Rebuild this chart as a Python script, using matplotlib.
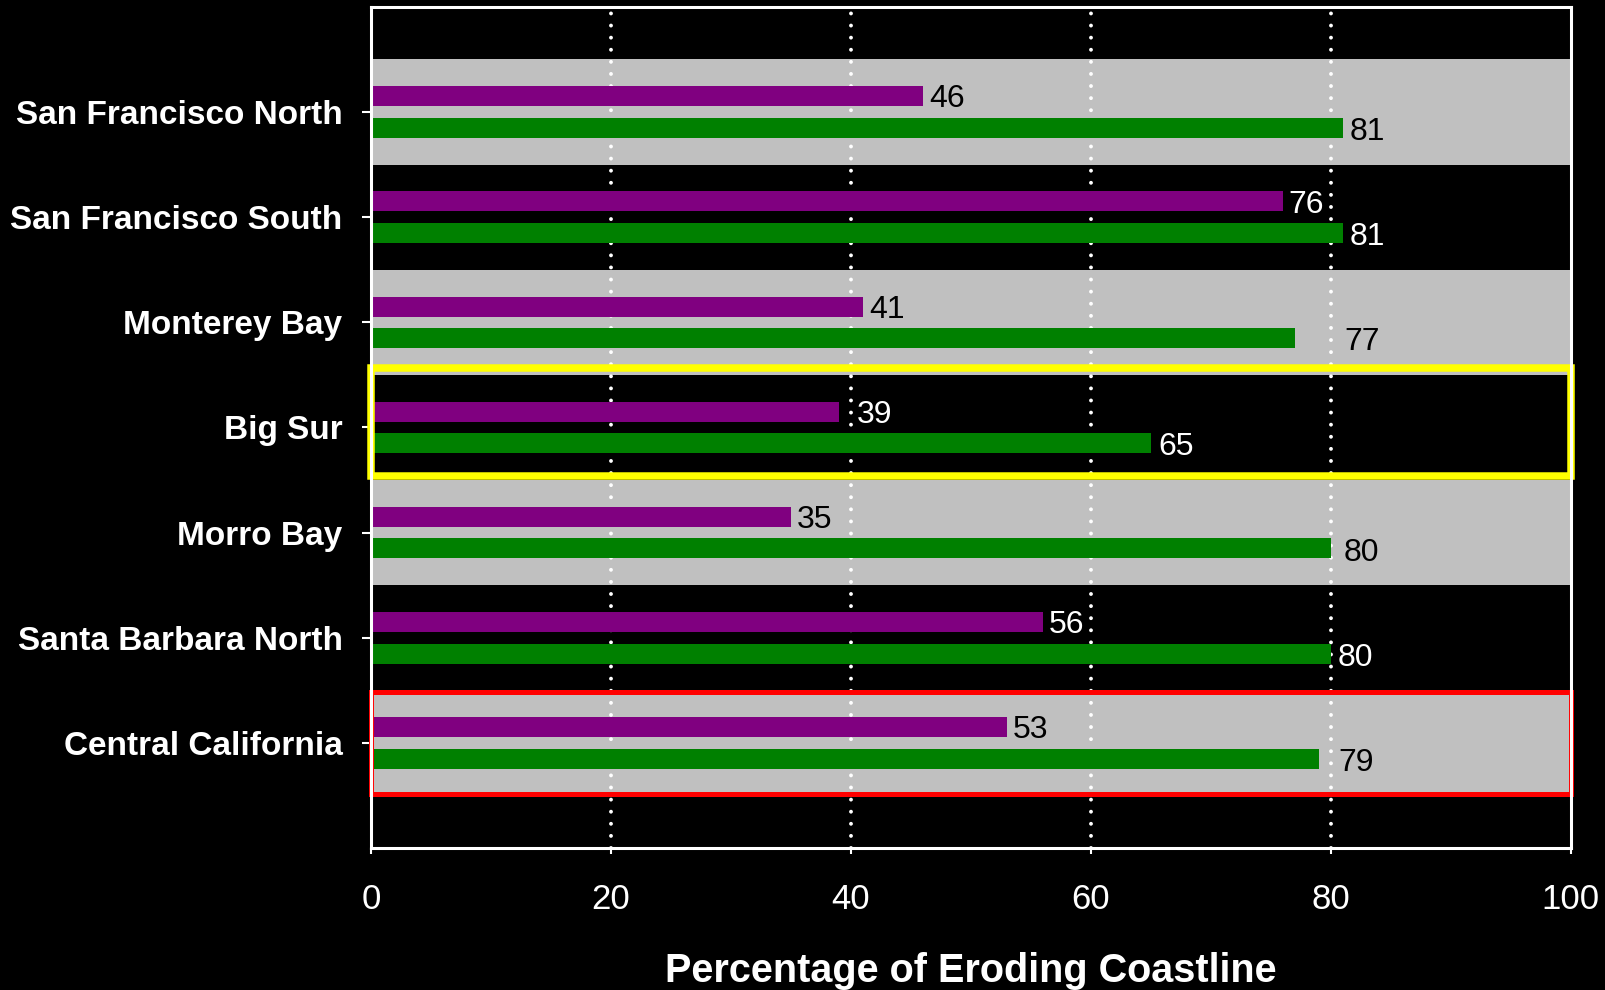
import numpy as np
import matplotlib.pyplot as plt
from matplotlib.patches import Rectangle

plt.rcParams['font.family'] = ['Liberation Sans', 'DejaVu Sans']

# ---------------- Daten ------------------------------------------------------
regionen = ["San Francisco North", "San Francisco South", "Monterey Bay",
            "Big Sur", "Morro Bay", "Santa Barbara North", "Central California"]
werte_lila = [46, 76, 41, 39, 35, 56, 53]
werte_gruen = [81, 81, 77, 65, 80, 80, 79]
# Position der Werte-Beschriftung (wie im Original teils versetzt)
text_lila = [46, 76, 41, 40, 35, 56, 53]
text_gruen = [81, 81, 80.5, 65, 80.5, 80, 80]
grau_band = [True, False, True, False, True, False, True]
x_ticks = [0, 20, 40, 60, 80, 100]

lila = "#800080"
gruen = "#008000"
grau = "#C0C0C0"

fig = plt.figure(figsize=(16.06, 9.90), dpi=100, facecolor="black")
ax = fig.add_axes([0.231, 0.1434, 0.747, 0.8496])
ax.set_facecolor("black")

y = np.arange(len(regionen))
h = 0.19
d = 0.15

# Hintergrundbänder
for i, band in enumerate(grau_band):
    if band:
        ax.axhspan(i - 0.5, i + 0.5, color=grau, zorder=0, lw=0)

# Gitterlinien gepunktet
for xt in x_ticks[1:-1]:
    ax.axvline(xt, color="white", lw=2.8, ls=(0, (0.01, 3.1)),
               dash_capstyle="round", zorder=1)

ax.barh(y - d, werte_lila, height=h, color=lila, zorder=2)
ax.barh(y + d, werte_gruen, height=h, color=gruen, zorder=2)

for i in range(len(regionen)):
    farbe = "black" if grau_band[i] else "white"
    ax.text(text_lila[i] + 0.5, y[i] - d + 0.03, str(werte_lila[i]), color=farbe,
            fontsize=23, va="center", ha="left", zorder=4)
    ax.text(text_gruen[i] + 0.6, y[i] + d + 0.04, str(werte_gruen[i]), color=farbe,
            fontsize=23, va="center", ha="left", zorder=4)

# Markierungen Big Sur (gelb) und Central California (rot)
ax.add_patch(Rectangle((0, 3 - 0.57), 100, 1.03, fill=False, ec="#FFFF00",
                       lw=5.4, zorder=5, clip_on=False))
ax.add_patch(Rectangle((0, 6 - 0.48), 100, 0.97, fill=False, ec="#FF0000",
                       lw=3.6, zorder=5, clip_on=False))

ax.set_xlim(0, 100)
ax.set_ylim(7, -1)
ax.set_yticks(y)
ax.set_yticklabels(regionen, fontsize=24, fontweight="bold", color="white")
ax.set_xticks(x_ticks)
ax.set_xticklabels([str(v) for v in x_ticks], fontsize=25, color="white")
ax.tick_params(axis="y", length=6.5, width=1.5, color="white", pad=14)
ax.tick_params(axis="x", length=4, width=1.5, color="white", pad=21)
for s in ax.spines.values():
    s.set_color("white")
    s.set_linewidth(2.2)
    s.set_zorder(6)

ax.set_xlabel("Percentage of Eroding Coastline", fontsize=28.5,
              fontweight="bold", color="white", labelpad=26)

fig.savefig("out.png", dpi=100, facecolor="black")
